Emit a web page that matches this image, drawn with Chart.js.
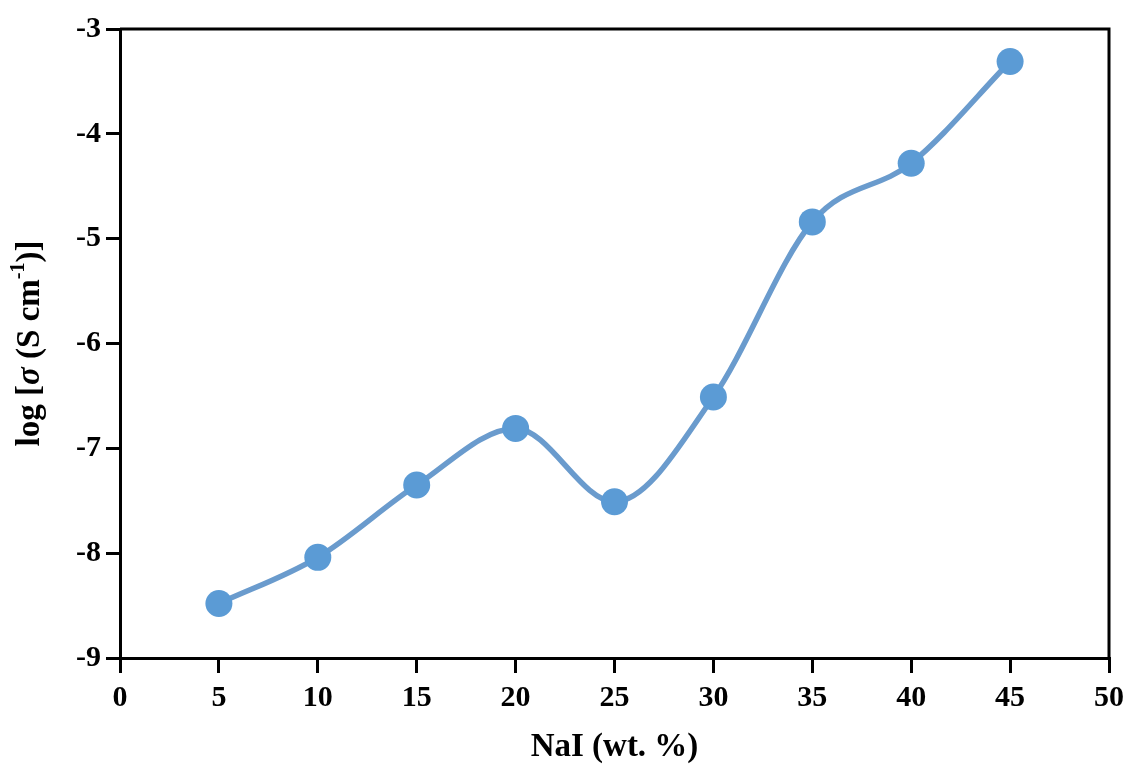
<!DOCTYPE html>
<html>
<head>
<meta charset="utf-8">
<title>log σ vs NaI</title>
<script src="https://cdn.jsdelivr.net/npm/chart.js@4/dist/chart.umd.min.js"></script>
<style>
  html, body { margin: 0; padding: 0; background: #fff; }
  #wrap { width: 1127px; height: 767px; }
</style>
</head>
<body>
<div id="wrap"><canvas id="myChart" width="1127" height="767"></canvas></div>
<script>
// NaI 含量 (wt. %) 和对应的电导率对数
const naiContent = [5, 10, 15, 20, 25, 30, 35, 40, 45]
const logSigma = [-8.48, -8.04, -7.35, -6.81, -7.51, -6.51, -4.84, -4.28, -3.31]

// 坐标轴范围
const xRange = [0, 50, 5]
const yRange = [-9, -3, 1]

const serif = "'Liberation Serif', 'Times New Roman', serif"

// 画四周的黑框 和 竖着的 y 轴标题 (σ 斜体, -1 上标)
const framePlugin = {
    id: 'frame',
    afterDraw(chart) {
        const ctx = chart.ctx
        const a = chart.chartArea
        ctx.save()
        ctx.strokeStyle = '#000'
        ctx.lineWidth = 3
        ctx.beginPath()
        ctx.moveTo(a.left, a.top)
        ctx.lineTo(a.right, a.top)
        ctx.lineTo(a.right, a.bottom)
        ctx.stroke()

        const parts = [
            { t: 'log [', f: 'bold 33px ' + serif, dy: 0 },
            { t: 'σ', f: 'italic bold 33px ' + serif, dy: 0 },
            { t: ' (S cm', f: 'bold 33px ' + serif, dy: 0 },
            { t: '-1', f: 'bold 20px ' + serif, dy: -11 },
            { t: ')]', f: 'bold 33px ' + serif, dy: 0 }
        ]
        let total = 0
        parts.forEach(p => { ctx.font = p.f; p.w = ctx.measureText(p.t).width; total += p.w })
        ctx.translate(30, (a.top + a.bottom) / 2)
        ctx.rotate(-Math.PI / 2)
        ctx.fillStyle = '#000'
        ctx.textBaseline = 'middle'
        ctx.textAlign = 'left'
        let x = -total / 2
        parts.forEach(p => {
            ctx.font = p.f
            ctx.fillText(p.t, x, p.dy)
            x += p.w
        })
        ctx.restore()
    }
}

const ctx = document.getElementById('myChart').getContext('2d')
const myChart = new Chart(ctx, {
    type: 'line',
    data: {
        datasets: [{
            label: 'log σ',
            data: naiContent.map((v, i) => ({ x: v, y: logSigma[i] })),
            borderColor: '#6a9bcd',
            borderWidth: 5.5,
            backgroundColor: '#5b9bd5',
            pointBackgroundColor: '#5b9bd5',
            pointBorderWidth: 0,
            pointRadius: 13.5,
            cubicInterpolationMode: 'monotone',
            fill: false
        }]
    },
    options: {
        responsive: false,
        animation: false,
        layout: { padding: { top: 29, right: 18, left: 0, bottom: 0 } },
        plugins: {
            legend: { display: false },
            tooltip: { enabled: false }
        },
        scales: {
            x: {
                type: 'linear',
                min: xRange[0],
                max: xRange[1],
                afterFit(scale) {
                    scale.height = 109
                    // 50 的标签可以伸出框外, 不要给它留位置
                    scale.paddingLeft = 0
                    scale.paddingRight = 0
                },
                border: { display: true, color: '#000', width: 3 },
                grid: { drawOnChartArea: false, drawTicks: true, color: '#000', lineWidth: 3, tickLength: 15 },
                ticks: {
                    stepSize: xRange[2],
                    padding: 7,
                    color: '#000',
                    font: { family: serif, size: 30, weight: 'bold' }
                },
                title: {
                    display: true,
                    text: 'NaI (wt. %)',
                    color: '#000',
                    padding: { top: 0, bottom: 0 },
                    font: { family: serif, size: 33, weight: 'bold' }
                }
            },
            y: {
                min: yRange[0],
                max: yRange[1],
                afterFit(scale) {
                    scale.width = 120
                    scale.paddingTop = 0
                    scale.paddingBottom = 0
                },
                border: { display: true, color: '#000', width: 3 },
                grid: { drawOnChartArea: false, drawTicks: true, color: '#000', lineWidth: 3, tickLength: 14 },
                ticks: {
                    stepSize: yRange[2],
                    padding: 5,
                    color: '#000',
                    font: { family: serif, size: 30, weight: 'bold' }
                }
            }
        }
    },
    plugins: [framePlugin]
})
</script>
</body>
</html>
